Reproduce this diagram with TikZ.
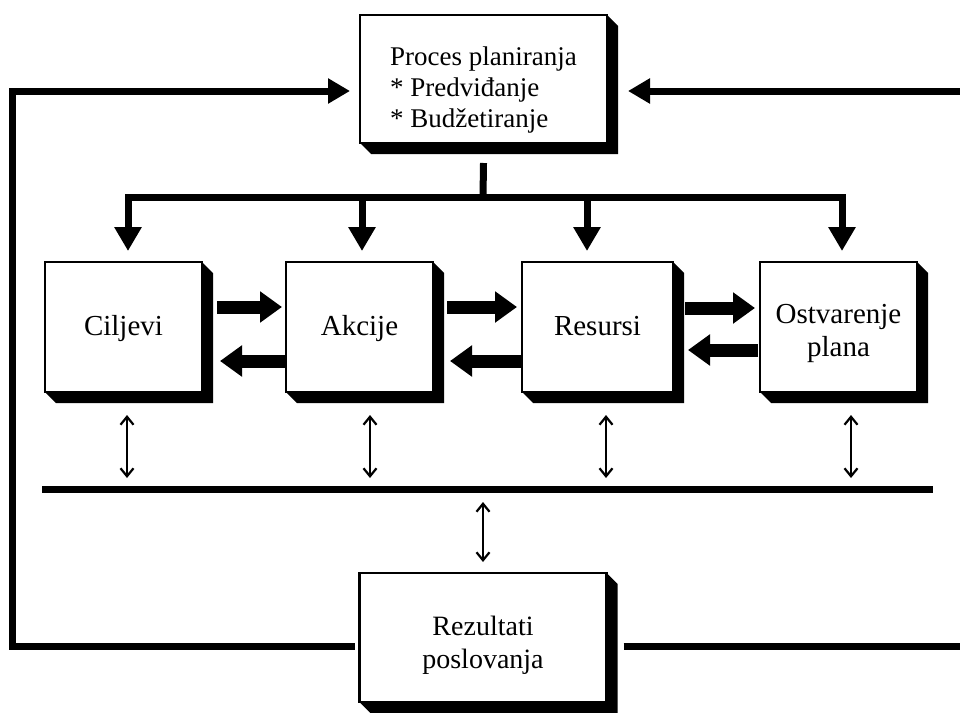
\documentclass[tikz,border=0pt]{standalone}
\usepackage{fontspec}
\setmainfont{Liberation Serif}
\usetikzlibrary{arrows.meta,calc}
\tikzset{
  box/.style={draw=black, line width=2.5pt, fill=white, inner sep=0pt, outer sep=0pt, align=center},
  thickln/.style={line width=7pt, line cap=rect},
  barrow/.style={line width=13pt, -{Triangle[width=30pt,length=22pt]}},
  fbarrow/.style={line width=7pt, line join=miter, -{Triangle[width=24pt,length=22pt]}},
  downarrow/.style={line width=7pt, -{Triangle[width=26pt,length=24pt]}},
  darrow/.style={line width=1.6pt, {Straight Barb[length=8pt,width=13pt,line width=2.2pt]}-{Straight Barb[length=8pt,width=13pt,line width=2.2pt]}},
  rowlbl/.style={font=\fontsize{29}{33}\selectfont},
  oneline/.style={text height=22pt, text depth=6pt},
}
\newcommand\boxshad[1]{\fill[black] (#1.south west) -- ++(11,11) -- ($(#1.south east)+(11,11)$) -- ($(#1.north east)+(11,11)$) -- (#1.north east) -- (#1.south east) -- cycle;}
\begin{document}
\begin{tikzpicture}[x=1pt,y=-1pt]
  \fill[white] (0,0) rectangle (960,712);
  \useasboundingbox (0,0) rectangle (960,712);

  % boxes
  \node[box, align=left, font=\fontsize{27}{31}\selectfont, minimum width=247pt, minimum height=128pt] (plan) at (483.5,79)
    {\rule{0pt}{40pt}Proces planiranja\\{*} Predviđanje\\{*} Budžetiranje\rule[-6pt]{0pt}{6pt}};

  \node[box, rowlbl, oneline, minimum width=157pt, minimum height=130pt] (cilj) at (123.5,327) {Ciljevi};
  \node[box, rowlbl, oneline, minimum width=147pt, minimum height=130pt] (akc) at (359.5,327) {Akcije};
  \node[box, rowlbl, oneline, minimum width=151pt, minimum height=130pt] (res) at (597.5,327) {Resursi};
  \node[box, rowlbl, minimum width=157pt, minimum height=130pt] (ost) at (838.5,327)
    {\rule{0pt}{31.4pt}Ostvarenje\\plana\rule[-6.4pt]{0pt}{6.4pt}};

  \node[box, font=\fontsize{28}{33}\selectfont, minimum width=247pt, minimum height=129pt] (rez) at (483,637.5)
    {\rule{0pt}{34pt}Rezultati\\poslovanja\rule[-6pt]{0pt}{6pt}};

  \boxshad{plan}
  \boxshad{cilj}
  \boxshad{akc}
  \boxshad{res}
  \boxshad{ost}
  \boxshad{rez}

  % coordinates
  \coordinate (bus) at (483,197);
  \coordinate (hl) at (42,489);
  \coordinate (hr) at (933,489);
  \coordinate (fl) at (12,0);
  \coordinate (fr) at (960,0);

  % distribution from planning
  \draw[line width=7pt] ($(plan.south)+(0,20)$) -- (bus);
  \draw[thickln] ($(cilj.north |- bus)+(4.5,0)$) -- ($(ost.north |- bus)+(3.5,0)$);
  \draw[downarrow] ($(cilj.north |- bus)+(4.5,0)$) -- ($(cilj.north)+(4.5,-11)$);
  \draw[downarrow] ($(akc.north |- bus)+(2.5,0)$) -- ($(akc.north)+(2.5,-11)$);
  \draw[downarrow] ($(res.north |- bus)+(-10.5,0)$) -- ($(res.north)+(-10.5,-11)$);
  \draw[downarrow] ($(ost.north |- bus)+(3.5,0)$) -- ($(ost.north)+(3.5,-11)$);

  % block arrows between row boxes
  \draw[barrow] ($(cilj.east)+(15,-20)$) -- ($(akc.west)+(-4,-20)$);
  \draw[barrow] ($(akc.west)+(-1,34)$) -- ($(cilj.east)+(18,34)$);
  \draw[barrow] ($(akc.east)+(14,-20)$) -- ($(res.west)+(-5,-20)$);
  \draw[barrow] ($(res.west)+(-1,34)$) -- ($(akc.east)+(17,34)$);
  \draw[barrow] ($(res.east)+(12,-19)$) -- ($(ost.west)+(-5,-19)$);
  \draw[barrow] ($(ost.west)+(-2,23)$) -- ($(res.east)+(15,23)$);

  % horizontal line and double arrows
  \draw[line width=7pt] (hl) -- (hr);
  \draw[darrow] ($(cilj.south)+(3.5,23)$) -- ($(cilj.south |- hl)+(3.5,-11)$);
  \draw[darrow] ($(akc.south)+(10.5,23)$) -- ($(akc.south |- hl)+(10.5,-11)$);
  \draw[darrow] ($(res.south)+(8.5,23)$) -- ($(res.south |- hl)+(8.5,-11)$);
  \draw[darrow] ($(ost.south)+(12.5,23)$) -- ($(ost.south |- hl)+(12.5,-11)$);
  \draw[darrow] ($(hl -| rez.north)+(0,13)$) -- ($(rez.north)+(0,-11)$);

  % feedback loops
  \draw[fbarrow] ($(rez.west)+(-5,8.5)$) -| ($(fl |- plan.west)+(0,12)$) -- ($(plan.west)+(-10,12)$);
  \draw[line width=7pt] ($(rez.east)+(17,8.5)$) -- ($(rez.east -| fr)+(0,8.5)$);
  \draw[fbarrow] ($(fr |- plan.east)+(0,12)$) -- ($(plan.east)+(21,12)$);
\end{tikzpicture}
\end{document}
